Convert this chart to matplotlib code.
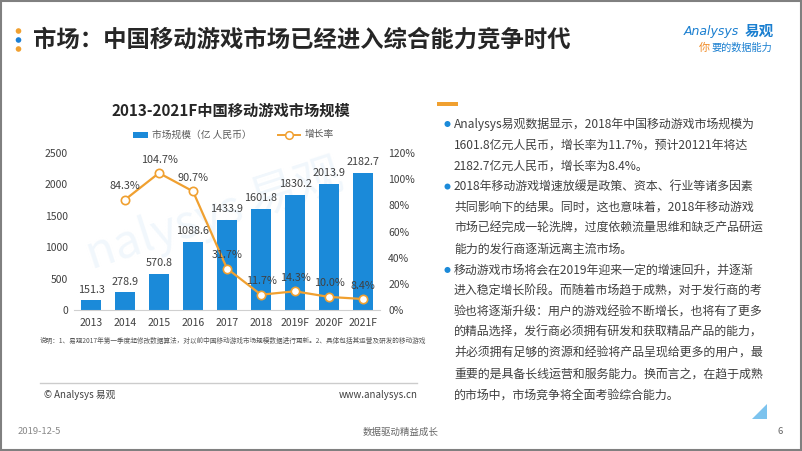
import matplotlib
matplotlib.use('Agg')
import matplotlib.pyplot as plt
import numpy as np
from matplotlib.patches import Rectangle, Polygon, Circle
from matplotlib.lines import Line2D

plt.rcParams['font.family'] = ['Noto Sans CJK SC', 'DejaVu Sans']

# 数据
years = ['2013', '2014', '2015', '2016', '2017', '2018', '2019F', '2020F', '2021F']
market_size = [151.3, 278.9, 570.8, 1088.6, 1433.9, 1601.8, 1830.2, 2013.9, 2182.7]
growth_years = years[1:]
growth_rate = [84.3, 104.7, 90.7, 31.7, 11.7, 14.3, 10.0, 8.4]

size_ticks = [0, 500, 1000, 1500, 2000, 2500]
rate_ticks = [0, 20, 40, 60, 80, 100, 120]

slide_title = '市场：中国移动游戏市场已经进入综合能力竞争时代'
chart_title = '2013-2021F中国移动游戏市场规模'
legend_bar = '市场规模（亿 人民币）'
legend_line = '增长率'
note = ('说明：1、易观2017年第一季度起修改数据算法，对以前中国移动游戏市场规模数据进行更新。'
        '2、具体包括其运营及研发的移动游戏')
text_lines = [
    'Analysys易观数据显示，2018年中国移动游戏市场规模为',
    '1601.8亿元人民币，增长率为11.7%，预计20121年将达',
    '2182.7亿元人民币，增长率为8.4%。',
    '2018年移动游戏增速放缓是政策、资本、行业等诸多因素',
    '共同影响下的结果。同时，这也意味着，2018年移动游戏',
    '市场已经完成一轮洗牌，过度依赖流量思维和缺乏产品研运',
    '能力的发行商逐渐远离主流市场。',
    '移动游戏市场将会在2019年迎来一定的增速回升，并逐渐',
    '进入稳定增长阶段。而随着市场趋于成熟，对于发行商的考',
    '验也将逐渐升级：用户的游戏经验不断增长，也将有了更多',
    '的精品选择，发行商必须拥有研发和获取精品产品的能力，',
    '并必须拥有足够的资源和经验将产品呈现给更多的用户，最',
    '重要的是具备长线运营和服务能力。换而言之，在趋于成熟',
    '的市场中，市场竞争将全面考验综合能力。',
]
bullet_lines = [0, 3, 7]

BLUE = '#1B8AD9'
ORANGE = '#F0A030'
DARK = '#404040'

W, H = 802, 451
fig = plt.figure(figsize=(W / 100, H / 100), dpi=100)

# 背景层，用像素坐标
bg = fig.add_axes([0, 0, 1, 1])
bg.set_xlim(0, W)
bg.set_ylim(H, 0)
bg.axis('off')


def box(l, t, r, b):
    return [l / W, 1 - b / H, (r - l) / W, (b - t) / H]


bg.add_patch(Rectangle((1, 1), W - 2, H - 2, fill=False, ec='#808080', lw=1.5))

# 标题
for yy, c in zip([31, 40, 49], [ORANGE, '#1B7FD4', ORANGE]):
    bg.add_patch(Circle((18.5, yy), 2.8, color=c, lw=0))
bg.text(33, 40, slide_title, fontsize=16.8, fontweight='bold', color='#262626', va='center')

# logo
bg.text(684, 31, 'Analysys', fontsize=9, color='#1A7FD0', style='italic',
        family='DejaVu Sans', va='center')
bg.text(745, 31, '易观', fontsize=10.5, fontweight='bold', color='#1A7FD0', va='center')
bg.text(699, 48, '你', fontsize=8, color='#F08A24', va='center')
bg.text(711, 48, '要的数据能力', fontsize=7.3, color='#1A7FD0', va='center')

# 水印
bg.text(215, 215, 'nalysys 易观', fontsize=34, color='#F1F7FC', rotation=18,
        ha='center', va='center', zorder=0)

# 图表标题和图例
bg.text(231, 111, chart_title, fontsize=11, fontweight='bold', color='#262626',
        ha='center', va='center')
bg.add_patch(Rectangle((133, 131.5), 15, 6, color=BLUE, lw=0))
bg.text(152, 134.5, legend_bar, fontsize=7, color='#595959', va='center')
bg.add_line(Line2D([278, 300], [134.5, 134.5], color=ORANGE, lw=1.4))
bg.plot([289], [134.5], marker='o', ms=5.5, mfc='white', mec=ORANGE, mew=1.1)
bg.text(305, 134.5, legend_line, fontsize=7, color='#595959', va='center')

# 柱状图
ax = fig.add_axes(box(74, 153, 380, 310))
ax.patch.set_alpha(0)
x = np.arange(len(years))
ax.bar(x, market_size, width=0.57, color=BLUE)
ax.set_xlim(-0.5, len(years) - 0.5)
ax.set_ylim(0, 2500)
ax.set_yticks(size_ticks)
ax.set_xticks(x)
ax.set_xticklabels(years)
ax.tick_params(length=0, labelsize=7.5, labelcolor=DARK)
ax.tick_params(axis='y', pad=4.3)
ax.tick_params(axis='x', pad=5.5)
for s in ['top', 'right', 'left']:
    ax.spines[s].set_visible(False)
ax.spines['bottom'].set_color('#D0D0D0')
for xi, v in zip(x, market_size):
    ax.annotate(f'{v:.1f}', (xi, v), xytext=(0, 7.9), textcoords='offset points',
                ha='center', va='center', fontsize=7.8, color=DARK)

# 增长率折线
ax2 = ax.twinx()
gx = [years.index(y) for y in growth_years]
ax2.plot(gx, growth_rate, color=ORANGE, lw=1.6, marker='o', ms=6,
         mfc='white', mec=ORANGE, mew=1.2)
ax2.set_ylim(0, 120)
ax2.set_yticks(rate_ticks)
ax2.set_yticklabels([f'{t}%' for t in rate_ticks])
ax2.tick_params(length=0, labelsize=7.5, labelcolor=DARK, pad=5.8)
for s in ax2.spines.values():
    s.set_visible(False)
for xi, r in zip(gx, growth_rate):
    ax2.annotate(f'{r:.1f}%', (xi, r), xytext=(0, 9.7), textcoords='offset points',
                 ha='center', va='center', fontsize=7.8, color=DARK)

# 说明和页脚
bg.text(40, 341, note, fontsize=4.8, color='#555555', va='center')
bg.add_line(Line2D([40, 417], [383, 383], color='#CCCCCC', lw=1))
bg.text(44, 395, '© Analysys 易观', fontsize=7, color='#404040', va='center')
bg.text(418, 395, 'www.analysys.cn', fontsize=7, color='#404040', va='center', ha='right')
bg.text(18, 432, '2019-12-5', fontsize=6.8, color='#888888', va='center')
bg.text(401, 432, '数据驱动精益成长', fontsize=6.8, color='#666666', va='center', ha='center')
bg.text(777, 432, '6', fontsize=6.8, color='#666666', va='center')

# 右侧文字
bg.add_patch(Rectangle((437, 102), 21, 4, color=ORANGE, lw=0))
for i, line in enumerate(text_lines):
    yy = 124 + 20.85 * i
    if i in bullet_lines:
        bg.add_patch(Circle((447.5, yy), 3, color='#1B8AD9', lw=0))
    bg.text(454, yy, line, fontsize=8.6, color=DARK, va='center')
bg.add_patch(Polygon([(752, 419), (767, 419), (767, 404)], color='#7CC3EE', lw=0))

fig.savefig('out.png', dpi=100)
